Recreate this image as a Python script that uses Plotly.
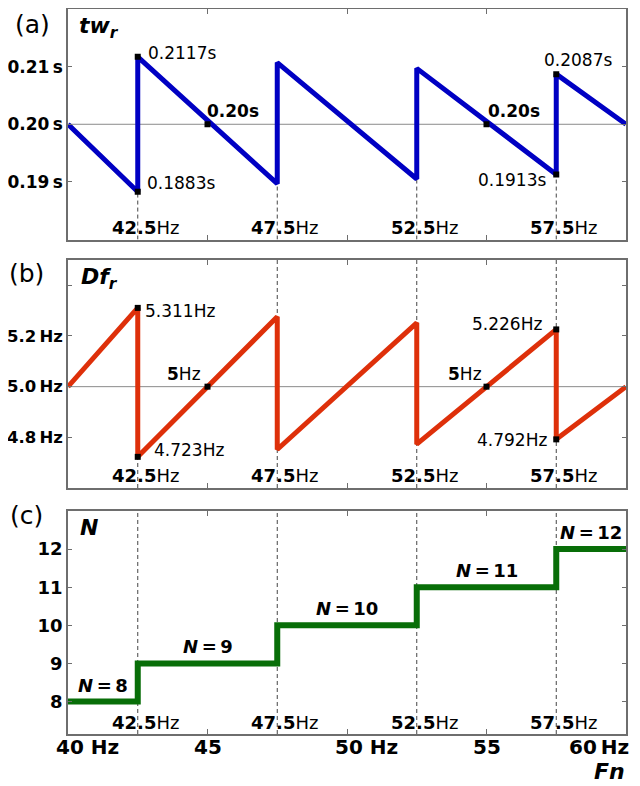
import plotly.graph_objects as go

# ---------------- data ----------------
freq_nodes = [40, 42.5, 42.5, 47.5, 47.5, 52.5, 52.5, 57.5, 57.5, 60]
twr_values = [0.200, 0.1883, 0.2117, 0.1897, 0.2107, 0.1905, 0.2097, 0.1913, 0.2087, 0.200]
dfr_values = [5.000, 5.311, 4.723, 5.276, 4.752, 5.252, 4.773, 5.226, 4.792, 5.000]
n_values = [8, 8, 9, 9, 10, 10, 11, 11, 12, 12]

switch_freqs = [42.5, 47.5, 52.5, 57.5]
switch_labels = ["42.5", "47.5", "52.5", "57.5"]

twr_mark_x = [42.5, 42.5, 45, 55, 57.5, 57.5]
twr_mark_y = [0.2117, 0.1883, 0.200, 0.200, 0.2087, 0.1913]
twr_mark_text = ["0.2117s", "0.1883s", "<b>0.20s</b>", "<b>0.20s</b>", "0.2087s", "0.1913s"]

dfr_mark_x = [42.5, 42.5, 45, 55, 57.5, 57.5]
dfr_mark_y = [5.311, 4.723, 5.0, 5.0, 5.226, 4.792]
dfr_mark_text = ["5.311Hz", "4.723Hz", "<b>5</b>Hz", "<b>5</b>Hz", "5.226Hz", "4.792Hz"]

n_levels = [8, 9, 10, 11, 12]

x_ticks = [40, 45, 50, 55, 60]
x_tick_text = ["40 Hz", "45", "50 Hz", "55", "60\u2009Hz"]
twr_ticks = [0.19, 0.20, 0.21]
twr_tick_text = ["0.19\u2009s", "0.20\u2009s", "0.21\u2009s"]
dfr_ticks = [4.8, 5.0, 5.2]
dfr_tick_text = ["4.8\u2009Hz", "5.0\u2009Hz", "5.2\u2009Hz"]
dfr_minor_ticks = [5.4]
n_ticks = [8, 9, 10, 11, 12]

# ---------------- styling ----------------
FONT = "DejaVu Sans"
BLUE = "rgb(0,0,195)"
RED = "rgb(222,48,10)"
GREEN = "rgb(8,110,8)"
AX = "#6e6e6e"
DASH = "#444444"
X_RANGE = [40, 60]
Y1_RANGE = [0.18, 0.22]
Y2_RANGE = [4.6, 5.5]
Y3_RANGE = [7.15, 13.0]

fig = go.Figure()


def line(x, y, xa, ya, color, width, dash=None):
    fig.add_trace(go.Scatter(x=x, y=y, xaxis=xa, yaxis=ya, mode="lines",
                             line=dict(color=color, width=width, dash=dash),
                             hoverinfo="skip", showlegend=False))


def vsegments(xs, y0s, y1s):
    xx, yy = [], []
    for x, a, b in zip(xs, y0s, y1s):
        xx += [x, x, None]
        yy += [a, b, None]
    return xx, yy


# reference horizontal lines
line(X_RANGE, [0.20, 0.20], "x", "y", "#8a8a8a", 1)
line(X_RANGE, [5.0, 5.0], "x2", "y2", "#8a8a8a", 1)

# dashed switching-frequency lines
troughs_a = [twr_values[i] for i in (1, 3, 5, 7)]
xx, yy = vsegments(switch_freqs, [Y1_RANGE[0]] * 4, troughs_a)
line(xx, yy, "x", "y", DASH, 1, "4px,3px")

troughs_b = [dfr_values[i] for i in (2, 4, 6, 8)]
peaks_b = [dfr_values[i] for i in (1, 3, 5, 7)]
xx, yy = vsegments(switch_freqs, [Y2_RANGE[0]] * 4, troughs_b)
line(xx, yy, "x2", "y2", DASH, 1, "4px,3px")
xx, yy = vsegments(switch_freqs[1:], [Y2_RANGE[1]] * 3, peaks_b[1:])
line(xx, yy, "x2", "y2", DASH, 1, "4px,3px")

xx, yy = vsegments(switch_freqs, [Y3_RANGE[0]] * 4, [Y3_RANGE[1]] * 4)
line(xx, yy, "x3", "y3", DASH, 1, "4px,3px")

# main curves
line(freq_nodes, twr_values, "x", "y", BLUE, 5)
line(freq_nodes, dfr_values, "x2", "y2", RED, 5)
line(freq_nodes, n_values, "x3", "y3", GREEN, 6)

# markers
fig.add_trace(go.Scatter(x=twr_mark_x, y=twr_mark_y, xaxis="x", yaxis="y", mode="markers",
                         marker=dict(symbol="square", size=6, color="black"),
                         hoverinfo="skip", showlegend=False))
fig.add_trace(go.Scatter(x=dfr_mark_x, y=dfr_mark_y, xaxis="x2", yaxis="y2", mode="markers",
                         marker=dict(symbol="square", size=6, color="black"),
                         hoverinfo="skip", showlegend=False))

# ---------------- axes ----------------
xcommon = dict(range=X_RANGE, showline=True, linecolor=AX, linewidth=1.5, mirror="ticks",
               ticks="inside", ticklen=5, tickcolor=AX, tickwidth=1, tickvals=x_ticks,
               showticklabels=False, showgrid=False, zeroline=False, fixedrange=True,
               automargin=False)
ycommon = dict(showline=True, linecolor=AX, linewidth=1.5, mirror="ticks",
               ticks="inside", ticklen=4, tickcolor=AX, tickwidth=1,
               showgrid=False, zeroline=False, ticklabelstandoff=0, automargin=False)


def tfont(size):
    return dict(family=FONT, size=size, color="black", weight="bold")


dom_a = [0.682, 1.0]
dom_b = [0.3393, 0.6538]
dom_c = [0.0, 0.3076]

# the page adds an 8px body margin; the figure is offset by it
fig.update_layout(
    width=624, height=778,
    margin=dict(l=60, r=6, t=1, b=52, autoexpand=False),
    plot_bgcolor="white", paper_bgcolor="white",
    showlegend=False,
    font=dict(family=FONT, color="black"),
    xaxis=dict(anchor="y", domain=[0, 1], **xcommon),
    xaxis2=dict(anchor="y2", domain=[0, 1], **xcommon),
    xaxis3=dict(anchor="y3", domain=[0, 1], **xcommon),
    yaxis=dict(anchor="x", domain=dom_a, range=Y1_RANGE, tickvals=twr_ticks,
               ticktext=twr_tick_text, tickfont=tfont(17), **ycommon),
    yaxis2=dict(anchor="x2", domain=dom_b, range=Y2_RANGE, tickvals=dfr_ticks,
                ticktext=dfr_tick_text, tickfont=tfont(16.5),
                minor=dict(tickvals=dfr_minor_ticks, ticks="inside", ticklen=4,
                           tickcolor=AX, showgrid=False),
                **ycommon),
    yaxis3=dict(anchor="x3", domain=dom_c, range=Y3_RANGE, tickvals=n_ticks,
                ticktext=[str(v) for v in n_ticks], tickfont=tfont(18), **ycommon),
)

ann = []


def A(text, x, y, xref, yref, size=17, xanchor="center", yanchor="middle", xshift=0, yshift=0):
    ann.append(dict(text=text, x=x, y=y, xref=xref, yref=yref, showarrow=False,
                    xanchor=xanchor, yanchor=yanchor, xshift=xshift, yshift=yshift,
                    font=dict(family=FONT, size=size, color="black")))


# point labels panel (a)
a_pos = [("left", 8, 4), ("left", 7, 9), ("left", -3, 13), ("left", -1, 13),
         ("center", 22, 14), ("right", -8, -6)]
for t, x, y, (xa, xs, ys) in zip(twr_mark_text, twr_mark_x, twr_mark_y, a_pos):
    A(t, x, y, "x", "y", xanchor=xa, xshift=xs, yshift=ys)

# point labels panel (b)
b_pos = [("left", 5, -3), ("left", 14, 7), ("right", -5, 13), ("right", -3, 13),
         ("right", -12, 5), ("right", -7, -1)]
for t, x, y, (xa, xs, ys) in zip(dfr_mark_text, dfr_mark_x, dfr_mark_y, b_pos):
    A(t, x, y, "x2", "y2", xanchor=xa, xshift=xs, yshift=ys)

# switching frequency labels in each panel
for xr, yr, yy in (("x", "y domain", 0.054), ("x2", "y2 domain", 0.057), ("x3", "y3 domain", 0.05)):
    for f, lab in zip(switch_freqs, switch_labels):
        A("<b>%s</b>Hz" % lab, f, yy, xr, yr, size=18, xanchor="left", xshift=-28)

# N step labels
starts = freq_nodes[0::2]
ends = freq_nodes[1::2]
for s, e, n in zip(starts, ends, n_levels):
    A("<b><i>N</i>\u2009=\u2009%d</b>" % n, (s + e) / 2, n, "x3", "y3", size=18,
      yanchor="bottom", yshift=4)

# panel variable names
A("<b><i>tw<sub>r</sub></i></b>", 0.016, 0.99, "x domain", "y domain", size=22,
  xanchor="left", yanchor="top")
A("<b><i>Df<sub>r</sub></i></b>", 0.02, 0.99, "x2 domain", "y2 domain", size=22,
  xanchor="left", yanchor="top")
A("<b><i>N</i></b>", 0.018, 0.99, "x3 domain", "y3 domain", size=22,
  xanchor="left", yanchor="top")

# panel letters
A("(a)", -0.099, 0.978, "paper", "paper", size=25, xanchor="left")
A("(b)", -0.109, 0.6345, "paper", "paper", size=25, xanchor="left")
A("(c)", -0.108, 0.302, "paper", "paper", size=25, xanchor="left")

# bottom x tick labels
x_anchor = [("left", -14), ("center", 0), ("left", -14), ("center", 0), ("right", 5)]
for v, t, (xa, xs) in zip(x_ticks, x_tick_text, x_anchor):
    A("<b>%s</b>" % t, v, -0.0179, "x3", "paper", size=20, xanchor=xa, xshift=xs)

A("<b><i>Fn</i></b>", 1, -0.0524, "paper", "paper", size=22, xanchor="right", xshift=1)

fig.update_layout(annotations=ann)
fig.write_html("out.html")
